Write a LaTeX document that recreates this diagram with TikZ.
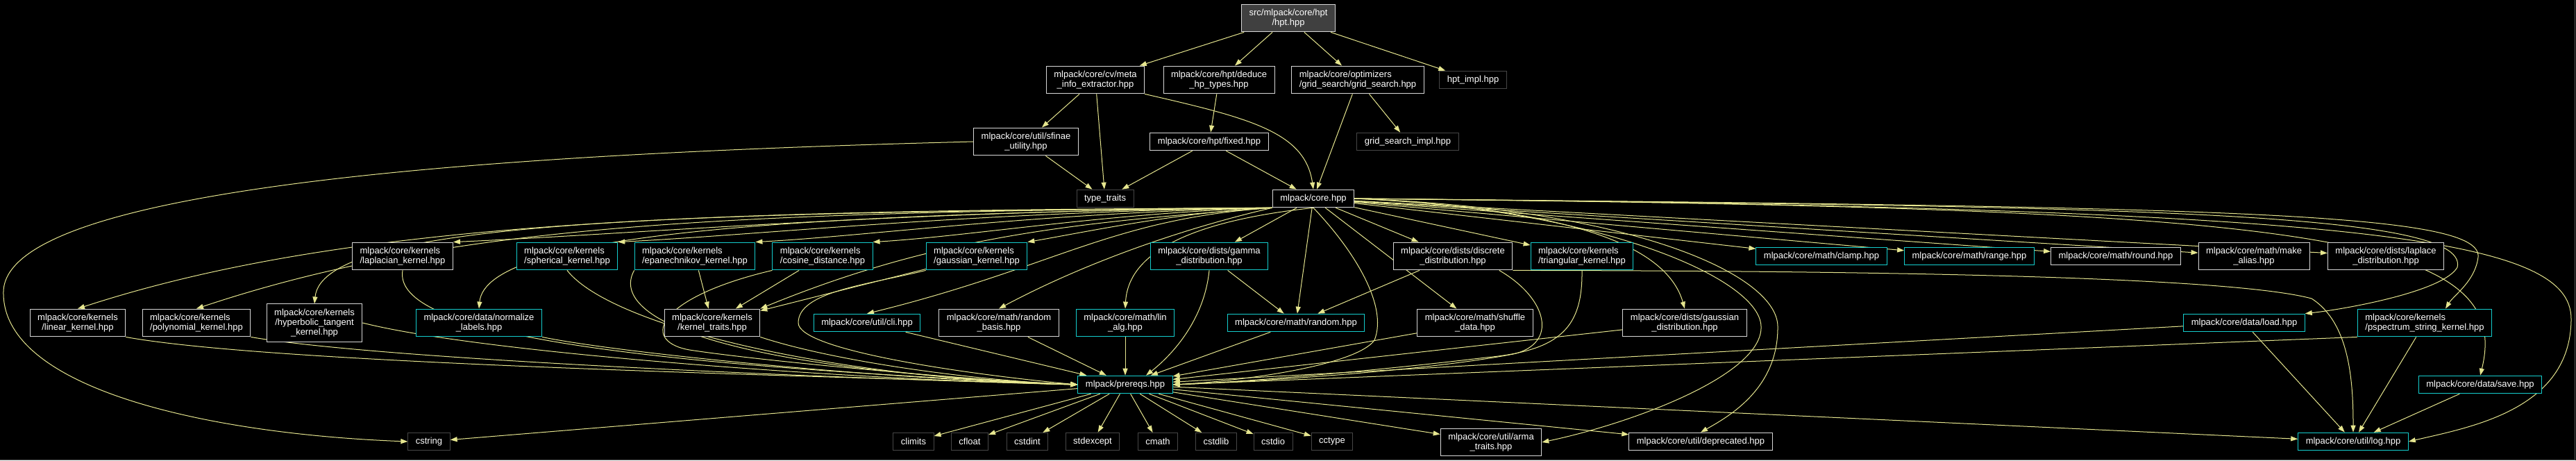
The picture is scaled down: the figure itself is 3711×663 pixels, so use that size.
\documentclass[tikz,border=0pt]{standalone}
\usepackage{fontspec}
\setmainfont{Liberation Sans}
\usetikzlibrary{arrows.meta}

\definecolor{edgecol}{RGB}{230,230,143}
\definecolor{truncol}{RGB}{20,205,205}
\definecolor{doccol}{RGB}{215,215,215}
\definecolor{syscol}{RGB}{70,70,70}
\definecolor{rootfill}{RGB}{64,64,64}
\definecolor{framecol}{RGB}{90,90,90}

\pgfdeclarelayer{bg}
\pgfdeclarelayer{edges}
\pgfsetlayers{bg,edges,main}

\begin{document}
\begin{tikzpicture}[
  x=0.02cm, y=-0.02cm,
  >={Triangle[length=0.2cm,width=0.14cm]},
  ->,
  line width=0.57pt,
  color=edgecol,
  every node/.style={font=\fontsize{7.4}{8.1}\selectfont,text=white,fill=black,
    inner xsep=0.22cm,inner ysep=0.135cm,minimum height=0.5cm,line width=0.57pt},
  file node/.style={rectangle,draw=doccol,align=center},
  left node/.style={file node,align=left},
  trunc node/.style={rectangle,draw=truncol,align=center},
  trunc left/.style={trunc node,align=left},
  sys node/.style={rectangle,draw=syscol},
  root node/.style={rectangle,draw=doccol,fill=rootfill,align=center},
  dep/.style={color=edgecol,line width=0.57pt},
]
\useasboundingbox (0,0) rectangle (3711,663);
\begin{pgfonlayer}{bg}
\fill[black,-] (0,0) rectangle (3711,663);
\draw[-,framecol] (0,662) -- (3709,662) -- (3709,0);
\end{pgfonlayer}

% rows from the top
\node[root node] (hpt) at (1856,26) {src/mlpack/core/hpt\\/hpt.hpp};
\node[file node] (meta) at (1578,115) {mlpack/core/cv/meta\\\_info\_extractor.hpp};
\node[file node] (deduce) at (1756,115) {mlpack/core/hpt/deduce\\\_hp\_types.hpp};
\node[left node] (gridsearch) at (1956,115) {mlpack/core/optimizers\\/grid\_search/grid\_search.hpp};
\node[sys node] (hptimpl) at (2122,115) {hpt\_impl.hpp};
\node[file node] (sfinae) at (1478,204) {mlpack/core/util/sfinae\\\_utility.hpp};
\node[file node] (fixed) at (1742,204) {mlpack/core/hpt/fixed.hpp};
\node[sys node] (gsimpl) at (2028,204) {grid\_search\_impl.hpp};
\node[sys node] (typetraits) at (1592,286) {type\_traits};
\node[file node] (core) at (1892,286) {mlpack/core.hpp};

\node[left node] (laplacian) at (580,369) {mlpack/core/kernels\\/laplacian\_kernel.hpp};
\node[trunc left] (spherical) at (817,369) {mlpack/core/kernels\\/spherical\_kernel.hpp};
\node[trunc left] (epan) at (1001,369) {mlpack/core/kernels\\/epanechnikov\_kernel.hpp};
\node[trunc left] (cosine) at (1185,369) {mlpack/core/kernels\\/cosine\_distance.hpp};
\node[trunc left] (gausskern) at (1407,369) {mlpack/core/kernels\\/gaussian\_kernel.hpp};
\node[trunc node] (gamma) at (1742,369) {mlpack/core/dists/gamma\\\_distribution.hpp};
\node[file node] (discrete) at (2093,369) {mlpack/core/dists/discrete\\\_distribution.hpp};
\node[trunc left] (triangular) at (2279,369) {mlpack/core/kernels\\/triangular\_kernel.hpp};
\node[trunc node] (clamp) at (2624,369) {mlpack/core/math/clamp.hpp};
\node[trunc node] (range) at (2837,369) {mlpack/core/math/range.hpp};
\node[file node] (round) at (3048,369) {mlpack/core/math/round.hpp};
\node[file node] (makealias) at (3247,369) {mlpack/core/math/make\\\_alias.hpp};
\node[file node] (laplace) at (3437,369) {mlpack/core/dists/laplace\\\_distribution.hpp};

\node[file node] (linear) at (112,465) {mlpack/core/kernels\\/linear\_kernel.hpp};
\node[left node] (poly) at (283,465) {mlpack/core/kernels\\/polynomial\_kernel.hpp};
\node[file node] (hyper) at (453,465) {mlpack/core/kernels\\/hyperbolic\_tangent\\\_kernel.hpp};
\node[trunc node] (normalize) at (690,465) {mlpack/core/data/normalize\\\_labels.hpp};
\node[file node] (kerneltraits) at (1026,465) {mlpack/core/kernels\\/kernel\_traits.hpp};
\node[trunc node] (cli) at (1249,465) {mlpack/core/util/cli.hpp};
\node[file node] (randbasis) at (1439,465) {mlpack/core/math/random\\\_basis.hpp};
\node[trunc node] (linalg) at (1621,465) {mlpack/core/math/lin\\\_alg.hpp};
\node[trunc node] (random) at (1867,465) {mlpack/core/math/random.hpp};
\node[file node] (shuffle) at (2125,465) {mlpack/core/math/shuffle\\\_data.hpp};
\node[file node] (gaussdist) at (2427,465) {mlpack/core/dists/gaussian\\\_distribution.hpp};
\node[trunc node] (load) at (3233,465) {mlpack/core/data/load.hpp};
\node[trunc left] (pspectrum) at (3493,465) {mlpack/core/kernels\\/pspectrum\_string\_kernel.hpp};

\node[trunc node] (prereqs) at (1621,554) {mlpack/prereqs.hpp};
\node[trunc node] (save) at (3573,554) {mlpack/core/data/save.hpp};

\node[sys node] (cstring) at (618,636) {cstring};
\node[sys node] (climits) at (1316,636) {climits};
\node[sys node] (cfloat) at (1397,636) {cfloat};
\node[sys node] (cstdint) at (1480,636) {cstdint};
\node[sys node] (stdexcept) at (1574,636) {stdexcept};
\node[sys node] (cmath) at (1668,636) {cmath};
\node[sys node] (cstdlib) at (1752,636) {cstdlib};
\node[sys node] (cstdio) at (1834,636) {cstdio};
\node[sys node] (cctype) at (1919,636) {cctype};
\node[file node] (arma) at (2148,637) {mlpack/core/util/arma\\\_traits.hpp};
\node[file node] (deprecated) at (2450,636) {mlpack/core/util/deprecated.hpp};
\node[trunc node] (log) at (3390,636) {mlpack/core/util/log.hpp};

\begin{pgfonlayer}{edges}
\begin{scope}[dep]
% hpt.hpp and its direct includes
\draw (hpt) -- (meta);
\draw (hpt) -- (deduce);
\draw (hpt) -- (gridsearch);
\draw (hpt) -- (hptimpl);
\draw (meta) -- (sfinae);
\draw (meta) -- (typetraits);
\draw (meta.south east) .. controls (1800,170) and (1880,190) .. (core.north);
\draw (deduce) -- (fixed);
\draw (fixed) -- (typetraits);
\draw (fixed) -- (core);
\draw (sfinae) -- (typetraits);
\draw (sfinae.west) .. controls (700,222) and (8,270) .. (5,420) .. controls (2,560) and (300,625) .. (cstring.west);
\draw (gridsearch) -- (gsimpl);
\draw (gridsearch) -- (core);

% core.hpp fans out
\draw (core.south west) .. controls (1000,303) and (500,318) .. (linear.north);
\draw (core.south west) .. controls (1050,305) and (650,322) .. (poly.north);
\draw (core.south west) .. controls (1000,306) and (465,315) .. (hyper.north);
\draw (core.south west) .. controls (1300,303) and (900,338) .. (laplacian.north east);
\draw (core.south west) .. controls (1150,308) and (700,335) .. (normalize.north);
\draw (core.south west) .. controls (1400,305) and (1100,338) .. (spherical.north east);
\draw (core.south west) .. controls (1500,306) and (1250,340) .. (epan.north east);
\draw (core.south west) .. controls (1600,306) and (1400,340) .. (cosine.north east);
\draw (core.south west) .. controls (1550,320) and (1350,340) .. (kerneltraits.north east);
\draw (core.south west) .. controls (1700,305) and (1560,335) .. (gausskern.north east);
\draw (core.south west) .. controls (1600,315) and (1520,385) .. (cli.north);
\draw (core.south west) .. controls (1700,330) and (1560,380) .. (randbasis.north);
\draw (core.south) .. controls (1700,320) and (1625,370) .. (linalg.north);
\draw (core) -- (gamma);
\draw (core) -- (random);
\draw (core.south) .. controls (1950,360) and (2000,440) .. (1980,490) .. controls (1955,525) and (1800,548) .. (prereqs.east);
\draw (core) -- (discrete);
\draw (core) -- (triangular);
\draw (core) -- (shuffle);
\draw (core.east) .. controls (2250,300) and (2400,350) .. (gaussdist.north);
\draw (core) -- (clamp);
\draw (core) -- (range);
\draw (core) -- (round);
\draw (core) -- (makealias);
\draw (core) -- (laplace);
\draw (core.east) .. controls (2300,300) and (2535,400) .. (2537,470) .. controls (2540,540) and (2350,610) .. (arma.east);
\draw (core.east) .. controls (2350,300) and (2560,395) .. (2561,470) .. controls (2562,560) and (2490,600) .. (deprecated.north);
\draw (core.east) .. controls (3000,298) and (3560,300) .. (3540,385) .. controls (3520,420) and (3380,445) .. (load.north east);
\draw (core.east) .. controls (3200,298) and (3575,305) .. (3570,370) .. controls (3566,405) and (3535,425) .. ([xshift=0.6cm]pspectrum.north);
\draw (core.east) .. controls (3300,300) and (3625,330) .. (save.north);
\draw (core.east) .. controls (3400,300) and (3705,340) .. (3704,460) .. controls (3703,590) and (3560,615) .. (log.east);

% into prereqs.hpp
\draw (linear.south east) .. controls (400,525) and (1200,542) .. (prereqs.west);
\draw (poly.south east) .. controls (550,518) and (1200,545) .. (prereqs.west);
\draw (hyper.east) .. controls (700,510) and (1250,548) .. (prereqs.west);
\draw (laplacian.south) .. controls (565,480) and (900,525) .. (prereqs.west);
\draw (normalize.south east) .. controls (900,510) and (1300,548) .. (prereqs.west);
\draw (spherical.south) .. controls (880,470) and (1200,545) .. (prereqs.west);
\draw (epan) -- (kerneltraits);
\draw (epan.south west) .. controls (880,450) and (1000,530) .. (prereqs.west);
\draw (cosine) -- (kerneltraits);
\draw (cosine.south west) .. controls (940,430) and (920,495) .. (1000,505) .. controls (1100,520) and (1400,548) .. (prereqs.west);
\draw (kerneltraits.south east) .. controls (1200,520) and (1400,548) .. (prereqs.west);
\draw (gausskern) -- (kerneltraits);
\draw (gausskern.south west) .. controls (1250,410) and (1150,420) .. (1150,465) .. controls (1150,505) and (1400,540) .. (prereqs.west);
\draw (cli) -- (prereqs);
\draw (randbasis) -- (prereqs);
\draw (linalg) -- (prereqs);
\draw (gamma) -- (random);
\draw (gamma.south) .. controls (1735,460) and (1690,510) .. ([xshift=0.6cm]prereqs.north);
\draw (random) -- (prereqs);
\draw (discrete) -- (random);
\draw (discrete.-17) .. controls (2230,430) and (2245,495) .. (2180,510) .. controls (2050,535) and (1800,550) .. (prereqs.east);
\draw (discrete.south east) .. controls (2600,390) and (3200,395) .. (3330,430) .. controls (3385,465) and (3390,550) .. (log.north);
\draw (triangular.south) .. controls (2280,470) and (2250,505) .. (2140,515) .. controls (2000,532) and (1800,550) .. (prereqs.east);
\draw (shuffle) -- (prereqs);
\draw (gaussdist) -- (prereqs);
\draw (load) -- (prereqs);
\draw (load) -- (log);
\draw (pspectrum.south west) -- (prereqs.east);
\draw (pspectrum) -- (log);
\draw (save) -- (log);

% prereqs.hpp and the system headers
\draw (prereqs) -- (cstring);
\draw (prereqs) -- (climits);
\draw (prereqs) -- (cfloat);
\draw (prereqs) -- (cstdint);
\draw (prereqs) -- (stdexcept);
\draw (prereqs) -- (cmath);
\draw (prereqs) -- (cstdlib);
\draw (prereqs) -- (cstdio);
\draw (prereqs) -- (cctype);
\draw (prereqs) -- (arma);
\draw (prereqs) -- (deprecated);
\draw (prereqs) -- (log);
\end{scope}
\end{pgfonlayer}
\end{tikzpicture}
\end{document}
